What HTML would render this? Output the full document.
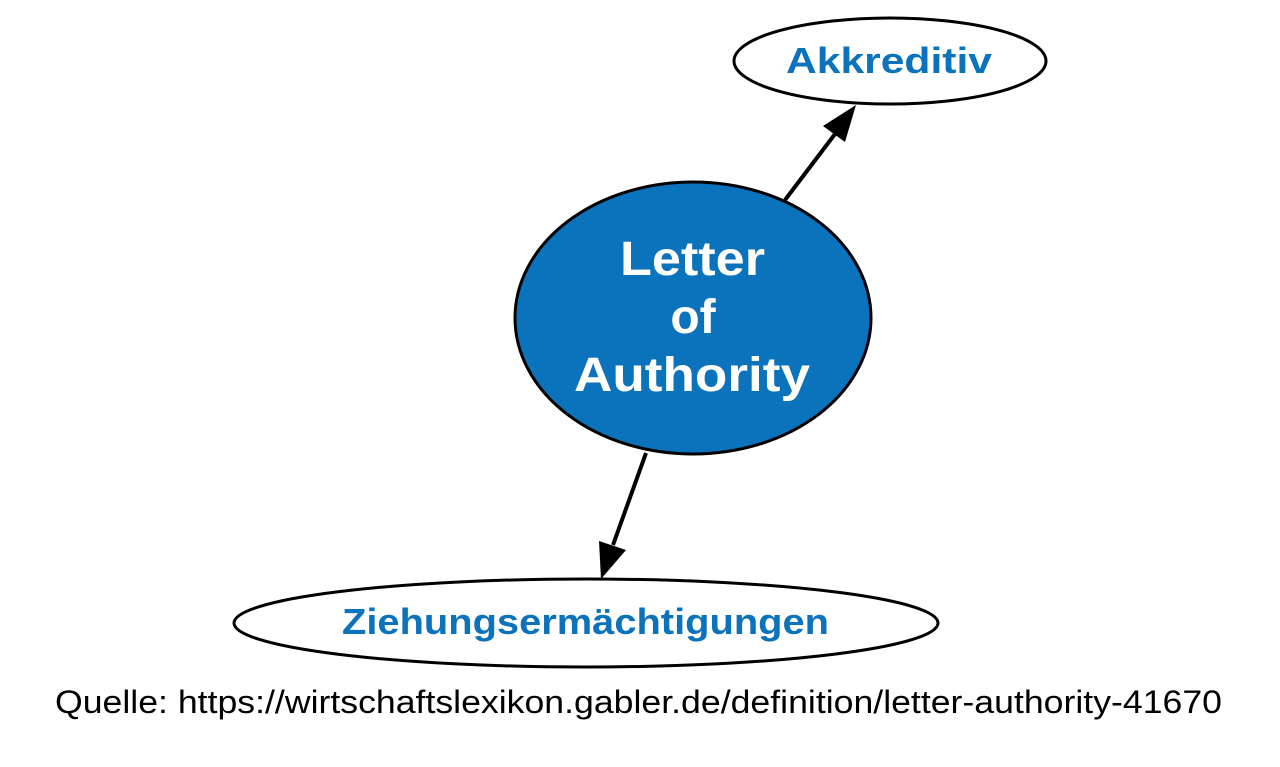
<!DOCTYPE html>
<html><head><style>html,body{margin:0;padding:0;background:#fff;}</style></head>
<body>
<svg width="1280" height="762" viewBox="0 0 1280 762" xmlns="http://www.w3.org/2000/svg">
<rect width="1280" height="762" fill="#fff"/>
<ellipse cx="890" cy="61" rx="156" ry="43" fill="#fff" stroke="#000" stroke-width="3"/>
<text x="786" y="73" textLength="206" lengthAdjust="spacingAndGlyphs" font-family="Liberation Sans, sans-serif" font-weight="bold" font-size="36" fill="#0b72bc">Akkreditiv</text>
<ellipse cx="693" cy="318" rx="178" ry="136" fill="#0b72bc" stroke="#000" stroke-width="3"/>
<g font-family="Liberation Sans, sans-serif" font-weight="bold" font-size="48" fill="#fff">
<text x="620" y="275" textLength="145" lengthAdjust="spacingAndGlyphs">Letter</text>
<text x="693" y="333" text-anchor="middle">of</text>
<text x="574" y="391" textLength="236" lengthAdjust="spacingAndGlyphs">Authority</text>
</g>
<ellipse cx="586" cy="623" rx="352" ry="44" fill="#fff" stroke="#000" stroke-width="3"/>
<text x="342" y="634" textLength="487" lengthAdjust="spacingAndGlyphs" font-family="Liberation Sans, sans-serif" font-weight="bold" font-size="36" fill="#0b72bc">Ziehungsermächtigungen</text>
<line x1="785" y1="200" x2="835" y2="134" stroke="#000" stroke-width="4"/>
<polygon points="856,105 823,126 845,142" fill="#000"/>
<line x1="646" y1="453" x2="613" y2="545" stroke="#000" stroke-width="4"/>
<polygon points="601,579 599,541 626,550" fill="#000"/>
<text x="55" y="713" textLength="1167" lengthAdjust="spacingAndGlyphs" font-family="Liberation Sans, sans-serif" font-size="32" fill="#000">Quelle: https://wirtschaftslexikon.gabler.de/definition/letter-authority-41670</text>
</svg>
</body></html>
